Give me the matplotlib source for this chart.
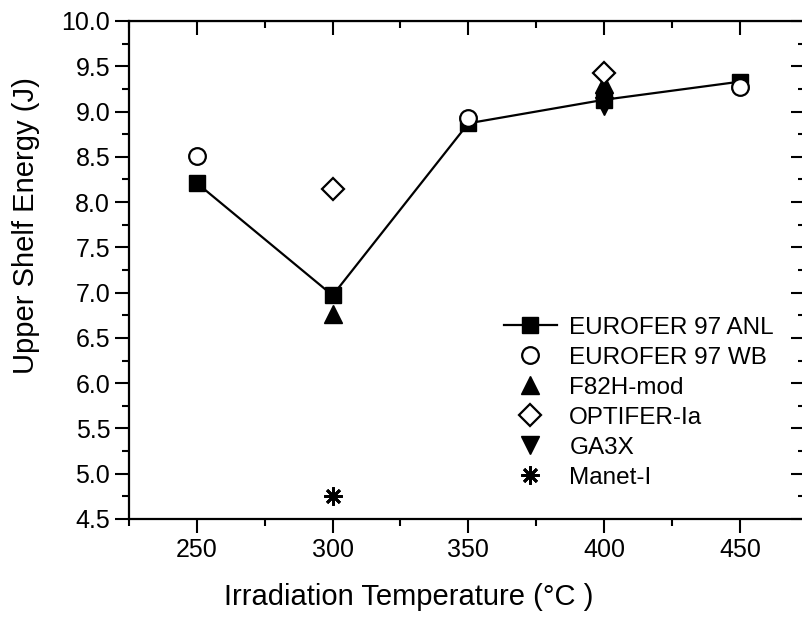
#Upper shelf energy vs irradiation temperature

import matplotlib
matplotlib.use("Agg")
import matplotlib.pyplot as plt
from matplotlib.ticker import MultipleLocator

plt.rcParams['font.family'] = ['Liberation Sans', 'DejaVu Sans']

#Datos
temp_anl = [250, 300, 350, 400, 450]
use_anl = [8.21, 6.97, 8.87, 9.13, 9.33]

temp_wb = [250, 350, 450]
use_wb = [8.51, 8.93, 9.27]

temp_f82h = [300, 400]
use_f82h = [6.76, 9.30]

temp_optifer = [300, 400]
use_optifer = [8.14, 9.43]

temp_ga3x = [400]
use_ga3x = [9.06]

temp_manet = [300]
use_manet = [4.75]

fig = plt.figure(figsize=(8.02, 6.19), dpi=100)
ax = fig.add_axes([129/802, 100/619, 676/802, 498/619])

ax.plot(temp_anl, use_anl, 'k-', marker='s', ms=12, lw=1.6, label='EUROFER 97 ANL', zorder=3)
ax.plot(temp_wb, use_wb, 'o', mfc='white', mec='k', mew=1.6, ms=12, ls='none', label='EUROFER 97 WB', zorder=4)
ax.plot(temp_f82h, use_f82h, '^', color='k', ms=13, ls='none', label='F82H-mod', zorder=2)
ax.plot(temp_optifer, use_optifer, 'D', mfc='white', mec='k', mew=1.6, ms=11, ls='none', label='OPTIFER-Ia', zorder=4)
ax.plot(temp_ga3x, use_ga3x, 'v', color='k', ms=13, ls='none', label='GA3X', zorder=2)
ax.plot(temp_manet, use_manet, marker=(8, 2, 0), color='k', mew=2, ms=13, ls='none', label='Manet-I', zorder=3)

ax.set_xlim(225, 474)
ax.set_ylim(4.5, 10.0)
ax.xaxis.set_major_locator(MultipleLocator(50))
ax.xaxis.set_minor_locator(MultipleLocator(25))
ax.yaxis.set_major_locator(MultipleLocator(0.5))
ax.yaxis.set_minor_locator(MultipleLocator(0.25))
ax.yaxis.set_major_formatter(plt.FormatStrFormatter('%.1f'))
ax.tick_params(which='major', direction='out', length=10, width=1.5, labelsize=18, colors='k')
ax.tick_params(which='minor', direction='out', length=5, width=1.5)
for s in ax.spines.values():
    s.set_linewidth(1.6)

top = ax.secondary_xaxis('top')
top.xaxis.set_major_locator(MultipleLocator(50))
top.xaxis.set_minor_locator(MultipleLocator(25))
top.tick_params(which='major', direction='in', length=10, width=1.5, labeltop=False)
top.tick_params(which='minor', direction='in', length=5, width=1.5)
right = ax.secondary_yaxis('right')
right.yaxis.set_major_locator(MultipleLocator(0.5))
right.yaxis.set_minor_locator(MultipleLocator(0.25))
right.tick_params(which='major', direction='in', length=10, width=1.5, labelright=False)
right.tick_params(which='minor', direction='in', length=5, width=1.5)

ax.set_xlabel('Irradiation Temperature (°C )', fontsize=21)
ax.set_ylabel('Upper Shelf Energy (J)', fontsize=21)
ax.xaxis.set_label_coords((409 - 129) / 676, -0.128)
ax.yaxis.set_label_coords(-0.132, (519 - 226) / 498)

ax.legend(loc='upper left', bbox_to_anchor=(0.522, 0.45), frameon=False, fontsize=17.5,
          handlelength=2.2, handletextpad=0.5, labelspacing=0.33, numpoints=1)

plt.savefig('out.png', dpi=100)
